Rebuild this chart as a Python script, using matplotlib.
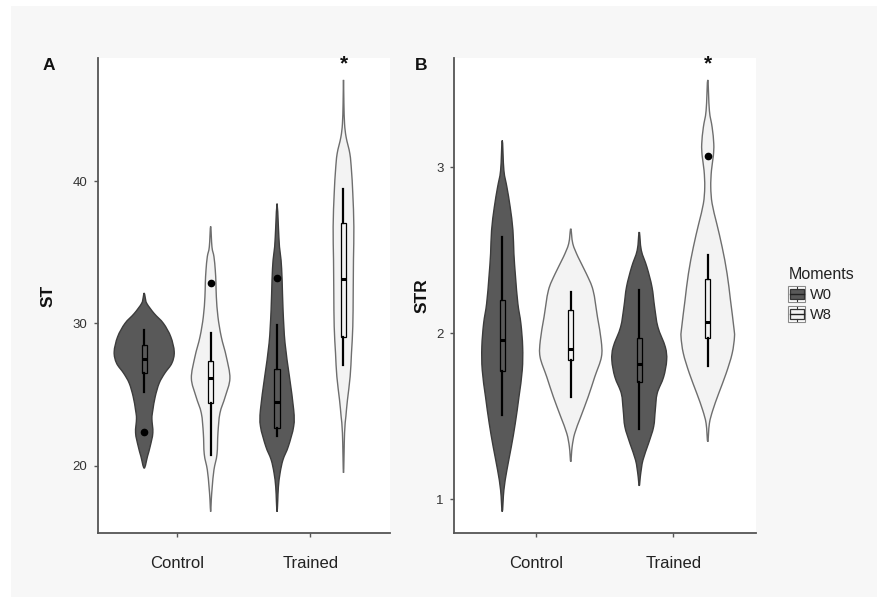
import numpy as np
import matplotlib
matplotlib.use("Agg")
import matplotlib.pyplot as plt
from matplotlib.patches import Rectangle, PathPatch
from matplotlib.path import Path
from matplotlib.lines import Line2D
from matplotlib.legend_handler import HandlerBase

plt.rcParams['font.family'] = ['Liberation Sans', 'DejaVu Sans']

# ---------------- data ----------------
categories = ["Control", "Trained"]
moments = ["W0", "W8"]

# Panel A (ST): violin outlines, value levels and half-widths (density), top to bottom
st_ctrl_w0_y = [32.15, 31.8, 31.4, 30.7, 30.0, 29.06, 28.0, 27.2, 26.5, 25.8, 24.85, 23.9, 23.3, 22.3, 21.35, 20.65, 19.82]
st_ctrl_w0_w = [0, 0.008, 0.020, 0.075, 0.145, 0.200, 0.226, 0.208, 0.155, 0.113, 0.083, 0.065, 0.058, 0.065, 0.045, 0.025, 0]
st_ctrl_w8_y = [36.83, 35.38, 34.7, 33.74, 32.85, 31.87, 30.47, 29.06, 27.66, 26.14, 24.85, 23.68, 22.28, 20.8, 19.7, 18.5, 17.6, 16.75]
st_ctrl_w8_w = [0, 0.010, 0.025, 0.035, 0.040, 0.043, 0.055, 0.080, 0.118, 0.145, 0.110, 0.070, 0.055, 0.048, 0.025, 0.012, 0.005, 0]
st_tr_w0_y = [38.43, 36.8, 35.4, 34.46, 33.05, 30.95, 28.61, 26.26, 23.93, 22.76, 21.35, 20.42, 19.49, 18.5, 17.5, 16.75]
st_tr_w0_w = [0, 0.010, 0.018, 0.030, 0.038, 0.045, 0.060, 0.093, 0.125, 0.125, 0.085, 0.045, 0.023, 0.010, 0.005, 0]
st_tr_w8_y = [47.14, 45.5, 44.05, 43.1, 41.94, 40.77, 39.14, 36.8, 34.46, 32.12, 29.78, 27.91, 26.26, 24.63, 23.46, 22.29, 19.49]
st_tr_w8_w = [0, 0.003, 0.008, 0.020, 0.048, 0.060, 0.070, 0.078, 0.075, 0.073, 0.070, 0.060, 0.050, 0.030, 0.018, 0.008, 0]

# Panel A box statistics, order: Control W0, Control W8, Trained W0, Trained W8
st_whislo = [25.20, 20.76, 22.06, 27.09]
st_q1 = [26.54, 24.39, 22.63, 29.07]
st_med = [27.47, 26.14, 24.50, 33.10]
st_q3 = [28.48, 27.38, 26.77, 37.09]
st_whishi = [29.53, 29.30, 29.90, 39.48]
st_outliers = [[22.33], [32.85], [33.17], []]

# Panel B (STR)
str_ctrl_w0_y = [3.161, 2.980, 2.880, 2.759, 2.619, 2.479, 2.338, 2.178, 2.058, 1.917, 1.777, 1.616, 1.456, 1.315, 1.175, 1.055, 0.924]
str_ctrl_w0_w = [0, 0.012, 0.034, 0.058, 0.078, 0.085, 0.097, 0.114, 0.136, 0.149, 0.146, 0.122, 0.095, 0.066, 0.034, 0.012, 0]
str_ctrl_w8_y = [2.629, 2.539, 2.458, 2.358, 2.258, 2.097, 1.957, 1.857, 1.736, 1.616, 1.496, 1.396, 1.315, 1.225]
str_ctrl_w8_w = [0, 0.015, 0.054, 0.114, 0.163, 0.195, 0.222, 0.224, 0.175, 0.127, 0.073, 0.029, 0.010, 0]
str_tr_w0_y = [2.609, 2.499, 2.398, 2.278, 2.158, 2.037, 1.917, 1.837, 1.736, 1.637, 1.536, 1.436, 1.336, 1.235, 1.150, 1.080]
str_tr_w0_w = [0, 0.015, 0.056, 0.093, 0.112, 0.136, 0.190, 0.200, 0.178, 0.131, 0.117, 0.105, 0.068, 0.027, 0.010, 0]
str_tr_w8_y = [3.526, 3.341, 3.241, 3.141, 3.070, 2.980, 2.880, 2.780, 2.659, 2.519, 2.359, 2.198, 2.037, 1.977, 1.877, 1.757, 1.637, 1.536, 1.456, 1.345]
str_tr_w8_w = [0, 0.012, 0.032, 0.044, 0.041, 0.027, 0.022, 0.032, 0.066, 0.105, 0.141, 0.166, 0.190, 0.195, 0.178, 0.134, 0.080, 0.037, 0.012, 0]

str_whislo = [1.506, 1.616, 1.420, 1.801]
str_q1 = [1.773, 1.841, 1.703, 1.971]
str_med = [1.957, 1.907, 1.817, 2.067]
str_q3 = [2.202, 2.138, 1.971, 2.329]
str_whishi = [2.579, 2.248, 2.262, 2.469]
str_outliers = [[], [], [], [3.07]]

st_yticks = [20, 30, 40]
str_yticks = [1, 2, 3]
significance = ["", "*"]          # per category, on W8
st_star_y = 48.26
str_star_y = 3.62

# ---------------- style ----------------
W, H = 878, 597
fill = {"W0": "#595959", "W8": "#f3f3f3"}
edge = {"W0": "#3c3c3c", "W8": "#6e6e6e"}
dodge = {"W0": -0.25, "W8": 0.25}

fig = plt.figure(figsize=(W / 100, H / 100), dpi=100, facecolor="white")
fig.patches.append(Rectangle((11 / W, 0), 1 - 11 / W, 1 - 6 / H, transform=fig.transFigure,
                             facecolor="#f7f7f7", edgecolor="none", zorder=-10))

axA = fig.add_axes([97.7 / W, 1 - 533.3 / H, 292.3 / W, 475 / H])
axB = fig.add_axes([454.3 / W, 1 - 533.3 / H, 301.4 / W, 475 / H])


def violin_patch(pos, ys, ws, **kw):
    """Closed smooth outline (Catmull-Rom drawn as cubic Bezier) through the density knots."""
    ys = np.asarray(ys, float)
    ws = np.asarray(ws, float)
    right = np.column_stack([pos + ws, ys])
    left = np.column_stack([pos - ws[::-1], ys[::-1]])[1:-1]
    pts = np.vstack([right, left])
    n = len(pts)
    verts = [pts[0]]
    codes = [Path.MOVETO]
    for i in range(n):
        p0, p1, p2, p3 = pts[(i - 1) % n], pts[i], pts[(i + 1) % n], pts[(i + 2) % n]
        verts += [p1 + (p2 - p0) / 6.0, p2 - (p3 - p1) / 6.0, p2]
        codes += [Path.CURVE4] * 3
    return PathPatch(Path(verts, codes), **kw)


def draw_panel(ax, outlines, stats_lists, outliers, yticks, ylabel, star_y, label_x):
    groups = [(c, m) for c in range(len(categories)) for m in moments]
    all_y = []
    for (ci, m), (ys, ws) in zip(groups, outlines):
        pos = ci + 1 + dodge[m]
        all_y.extend(ys)
        ax.add_patch(violin_patch(pos, ys, ws, facecolor=fill[m], edgecolor=edge[m],
                                  linewidth=1.0, zorder=2))
    whislo, q1, med, q3, whishi = stats_lists
    stats = []
    for i in range(len(groups)):
        stats.append(dict(med=med[i], q1=q1[i], q3=q3[i], whislo=whislo[i],
                          whishi=whishi[i], fliers=outliers[i]))
    positions = [ci + 1 + dodge[m] for ci, m in groups]
    bp = ax.bxp(stats, positions=positions, widths=0.04, patch_artist=True, showcaps=False,
                boxprops=dict(edgecolor="black", linewidth=0.9),
                whiskerprops=dict(color="black", linewidth=1.6),
                medianprops=dict(color="black", linewidth=2.2),
                flierprops=dict(marker="o", markerfacecolor="black", markeredgecolor="black",
                                markersize=4.5, linestyle="none"),
                manage_ticks=False, zorder=3)
    for patch, (ci, m) in zip(bp["boxes"], groups):
        patch.set_facecolor(fill[m])
    for ci, s in enumerate(significance):
        if s:
            ax.text(ci + 1 + dodge["W8"], star_y, s, ha="center", va="center",
                    fontsize=15, fontweight="bold", color="#111111")
    lo, hi = min(all_y), max(all_y)
    pad = 0.05 * (hi - lo)
    ax.set_ylim(lo - pad, hi + pad)
    ax.set_xlim(0.4, 2.6)
    ax.set_xticks([1, 2])
    ax.set_xticklabels(categories)
    ax.set_yticks(yticks)
    ax.set_yticklabels([str(t) for t in yticks])
    for side in ["top", "right"]:
        ax.spines[side].set_visible(False)
    for side in ["left", "bottom"]:
        ax.spines[side].set_color("#555555")
        ax.spines[side].set_linewidth(1.3)
    ax.tick_params(axis="both", length=3, width=1.0, color="#555555")
    ax.tick_params(axis="y", labelsize=9.5, labelcolor="#333333", pad=4.5)
    ax.tick_params(axis="x", labelsize=12, labelcolor="#222222", pad=13.5)
    ax.set_ylabel(ylabel, fontsize=12.5, fontweight="bold", color="#111111")
    ax.yaxis.set_label_coords(label_x, 0.5)
    ax.yaxis.label.set_va("center")


draw_panel(axA,
           [(st_ctrl_w0_y, st_ctrl_w0_w), (st_ctrl_w8_y, st_ctrl_w8_w),
            (st_tr_w0_y, st_tr_w0_w), (st_tr_w8_y, st_tr_w8_w)],
           (st_whislo, st_q1, st_med, st_q3, st_whishi), st_outliers,
           st_yticks, "ST", st_star_y, (48 - 97.7) / 292.3)
draw_panel(axB,
           [(str_ctrl_w0_y, str_ctrl_w0_w), (str_ctrl_w8_y, str_ctrl_w8_w),
            (str_tr_w0_y, str_tr_w0_w), (str_tr_w8_y, str_tr_w8_w)],
           (str_whislo, str_q1, str_med, str_q3, str_whishi), str_outliers,
           str_yticks, "STR", str_star_y, (421.7 - 454.3) / 301.4)

fig.text(49 / W, 1 - 65 / H, "A", ha="center", va="center", fontsize=12.5, fontweight="bold", color="#111111")
fig.text(420.7 / W, 1 - 65 / H, "B", ha="center", va="center", fontsize=12.5, fontweight="bold", color="#111111")


class BoxKeyHandler(HandlerBase):
    def create_artists(self, legend, orig_handle, xdescent, ydescent, width, height, fontsize, trans):
        x0, y0 = -xdescent, -ydescent
        fc = orig_handle.get_facecolor()
        arts = [Rectangle((x0, y0), width, height, facecolor="white", edgecolor="#8a8a8a",
                          linewidth=0.8, transform=trans),
                Rectangle((x0 + 0.1 * width, y0 + 0.2 * height), 0.8 * width, 0.6 * height,
                          facecolor=fc, edgecolor="#333333", linewidth=0.9, transform=trans),
                Line2D([x0 + 0.1 * width, x0 + 0.9 * width], [y0 + 0.5 * height] * 2,
                       color="#222222", linewidth=1.0, transform=trans),
                Line2D([x0 + 0.5 * width] * 2, [y0 + 0.04 * height, y0 + 0.2 * height],
                       color="#333333", linewidth=0.8, transform=trans),
                Line2D([x0 + 0.5 * width] * 2, [y0 + 0.8 * height, y0 + 0.96 * height],
                       color="#333333", linewidth=0.8, transform=trans)]
        return arts


handles = [Rectangle((0, 0), 1, 1, facecolor=fill[m]) for m in moments]
leg = fig.legend(handles, moments, handler_map={Rectangle: BoxKeyHandler()},
                 loc="upper left", bbox_to_anchor=(788.5 / W, 1 - 267 / H),
                 bbox_transform=fig.transFigure, frameon=False, title="Moments",
                 title_fontsize=11.5, fontsize=10.5, handlelength=1.15, handleheight=1.25,
                 labelspacing=0.3, handletextpad=0.3, borderpad=0, borderaxespad=0,
                 alignment="left")
leg.get_title().set_color("#222222")
for t in leg.get_texts():
    t.set_color("#222222")

fig.savefig("out.png", dpi=100, facecolor=fig.get_facecolor())
